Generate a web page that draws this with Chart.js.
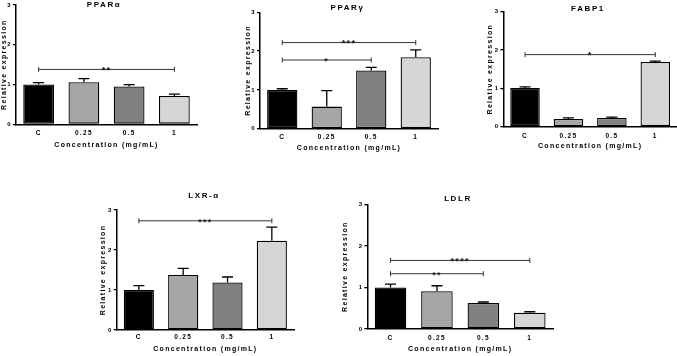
<!DOCTYPE html>
<html>
<head>
<meta charset="utf-8">
<script src="https://cdn.jsdelivr.net/npm/chart.js@4/dist/chart.umd.min.js"></script>
<style>
  html, body { margin: 0; padding: 0; background: #fff; }
  #wrap { position: relative; width: 677px; height: 356px; overflow: hidden; }
  #wrap canvas { position: absolute; left: 0; top: 0; }
</style>
</head>
<body>
<div id="wrap">
  <canvas id="c0" width="677" height="356"></canvas>
  <canvas id="c1" width="677" height="356"></canvas>
  <canvas id="c2" width="677" height="356"></canvas>
  <canvas id="c3" width="677" height="356"></canvas>
  <canvas id="c4" width="677" height="356"></canvas>
</div>
<script>
// ---------- data ----------
const categories = ['C', '0.25', '0.5', '1'];
const yTicks = [0, 1, 2, 3];
const panelTitles = ['PPARα', 'PPARγ', 'FABP1', 'LXR-α', 'LDLR'];
const xAxisTitle = 'Concentration (mg/mL)';
const yAxisTitle = 'Relative expression';

const pparaMean = [1.00, 1.06, 0.95, 0.71];
const pparaErr  = [0.05, 0.09, 0.05, 0.05];
const pparaSig  = [[0, 3, 1.38, '**']];

const ppargMean = [1.00, 0.57, 1.50, 1.84];
const ppargErr  = [0.03, 0.41, 0.08, 0.19];
const ppargSig  = [[0, 3, 2.22, '***'], [0, 2, 1.77, '*']];

const fabp1Mean = [1.01, 0.20, 0.23, 1.69];
const fabp1Err  = [0.03, 0.03, 0.02, 0.02];
const fabp1Sig  = [[0, 3, 1.88, '*']];

const lxraMean = [1.00, 1.375, 1.19, 2.23];
const lxraErr  = [0.11, 0.165, 0.135, 0.34];
const lxraSig  = [[0, 3, 2.73, '***']];

const ldlrMean = [1.00, 0.91, 0.625, 0.39];
const ldlrErr  = [0.08, 0.13, 0.025, 0.025];
const ldlrSig  = [[0, 3, 1.65, '****'], [0, 2, 1.33, '**']];

const barColors = ['#000000', '#a6a6a6', '#808080', '#d6d6d6'];

// ---------- layout (pixel frames of each panel) ----------
const W = 677, H = 356;
const frames = [
  { L: 16,    R: 197, T: 5,    B: 124.3, ytx: 4,     xty: 145,   tx: 104,   ty: 4.5,   tp: 5.5 },
  { L: 260,   R: 438, T: 12.3, B: 128.7, ytx: 247.7, xty: 147.7, tx: 347.5, ty: 8,     tp: 4.5 },
  { L: 503.3, R: 677, T: 11.7, B: 126.7, ytx: 490,   xty: 146,   tx: 588,   ty: 9,     tp: 5.5 },
  { L: 116.7, R: 294, T: 210,  B: 330,   ytx: 102.7, xty: 349.3, tx: 204,   ty: 195.7, tp: 3 },
  { L: 367.3, R: 553, T: 204.3,B: 329,   ytx: 345,   xty: 349,   tx: 458,   ty: 198.3, tp: 5 }
];

const panels = [
  { mean: pparaMean, err: pparaErr, sig: pparaSig },
  { mean: ppargMean, err: ppargErr, sig: ppargSig },
  { mean: fabp1Mean, err: fabp1Err, sig: fabp1Sig },
  { mean: lxraMean,  err: lxraErr,  sig: lxraSig },
  { mean: ldlrMean,  err: ldlrErr,  sig: ldlrSig }
];

const FONT = "'Liberation Sans', Arial, Helvetica, sans-serif";
Chart.defaults.font.family = FONT;
Chart.defaults.color = '#000';

const LS = '1.3px';
const spacingPlugin = {
  id: 'spacing',
  beforeUpdate(c) { c.ctx.letterSpacing = LS; },
  beforeLayout(c) { c.ctx.letterSpacing = LS; },
  beforeDraw(c) { c.ctx.letterSpacing = LS; }
};

const extrasPlugin = {
  id: 'extras',
  afterDatasetsDraw(chart, args, o) {
    const ctx = chart.ctx;
    const xs = chart.scales.x, ys = chart.scales.y;
    const meta = chart.getDatasetMeta(0);
    ctx.save();
    ctx.letterSpacing = LS;
    // error bars (upper only)
    ctx.strokeStyle = '#000';
    ctx.lineWidth = 1.3;
    meta.data.forEach((bar, i) => {
      const cx = bar.x;
      const y0 = ys.getPixelForValue(o.mean[i]);
      const y1 = ys.getPixelForValue(o.mean[i] + o.err[i]);
      ctx.beginPath();
      ctx.moveTo(cx, y0);
      ctx.lineTo(cx, y1);
      ctx.moveTo(cx - 5.5, y1);
      ctx.lineTo(cx + 5.5, y1);
      ctx.stroke();
    });
    // significance brackets
    ctx.strokeStyle = '#333';
    ctx.fillStyle = '#222';
    ctx.lineWidth = 1;
    ctx.font = 'bold 9px ' + FONT;
    ctx.textAlign = 'center';
    ctx.textBaseline = 'alphabetic';
    o.sig.forEach(s => {
      const x1 = xs.getPixelForValue(s[0]);
      const x2 = xs.getPixelForValue(s[1]);
      const yy = ys.getPixelForValue(s[2]);
      ctx.beginPath();
      ctx.moveTo(x1, yy); ctx.lineTo(x2, yy);
      ctx.moveTo(x1, yy - 2.5); ctx.lineTo(x1, yy + 2.5);
      ctx.moveTo(x2, yy - 2.5); ctx.lineTo(x2, yy + 2.5);
      ctx.stroke();
      ctx.fillText(s[3], (x1 + x2) / 2, yy + 3.8);
    });
    // panel title
    ctx.fillStyle = '#000';
    ctx.font = 'bold 8px ' + FONT;
    ctx.letterSpacing = '1.6px';
    ctx.textBaseline = 'middle';
    ctx.fillText(o.title, o.tx, o.ty);
    ctx.restore();
  }
};

panels.forEach((p, k) => {
  const f = frames[k];
  const yLeft = f.ytx - 3.5;
  const xBottom = f.xty + 3.5;
  new Chart(document.getElementById('c' + k), {
    type: 'bar',
    data: {
      labels: categories,
      datasets: [{
        data: p.mean,
        backgroundColor: barColors,
        borderColor: '#000',
        borderWidth: 1.3,
        borderSkipped: false,
        categoryPercentage: 1,
        barPercentage: 0.68
      }]
    },
    options: {
      responsive: false,
      animation: false,
      events: [],
      layout: { padding: { left: yLeft, right: W - f.R, top: f.T, bottom: H - xBottom } },
      plugins: {
        legend: { display: false },
        tooltip: { enabled: false },
        title: { display: false },
        extras: { mean: p.mean, err: p.err, sig: p.sig, title: panelTitles[k], tx: f.tx, ty: f.ty }
      },
      scales: {
        x: {
          type: 'category',
          offset: true,
          grid: { display: false, drawTicks: false, tickLength: 0 },
          border: { display: true, color: '#000', width: 1.5 },
          ticks: { font: { size: 6.5, weight: 'bold' }, padding: f.tp, maxRotation: 0, autoSkip: false },
          title: { display: true, text: xAxisTitle, font: { size: 7, weight: 'bold', lineHeight: 1 }, padding: 0 },
          afterFit(s) { s.height = xBottom - f.B; }
        },
        y: {
          min: yTicks[0],
          max: yTicks[yTicks.length - 1],
          afterBuildTicks(s) { s.ticks = yTicks.map(v => ({ value: v })); },
          grid: { display: true, drawOnChartArea: false, drawTicks: true, tickLength: 3, color: '#000', lineWidth: 1.3 },
          border: { display: true, color: '#000', width: 1.5 },
          ticks: { font: { size: 6, weight: 'bold' }, padding: 1 },
          title: { display: true, text: yAxisTitle, font: { size: 7, weight: 'bold', lineHeight: 1 }, padding: 0 },
          afterFit(s) { s.width = f.L - yLeft; }
        }
      }
    },
    plugins: [spacingPlugin, extrasPlugin]
  });
});
</script>
</body>
</html>
